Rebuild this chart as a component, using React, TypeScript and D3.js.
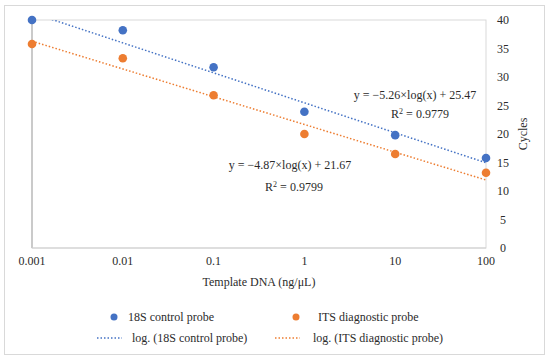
import React from 'react';
import * as d3 from 'd3';

const concentrations = [0.001, 0.01, 0.1, 1, 10, 100];
const controlCycles = [40.0, 38.2, 31.7, 23.9, 19.8, 15.8];
const diagnosticCycles = [35.8, 33.3, 26.8, 20.0, 16.5, 13.2];
const yTicks = [0, 5, 10, 15, 20, 25, 30, 35, 40];
const xTickLabels = ['0.001', '0.01', '0.1', '1', '10', '100'];

const series = [
  { name: '18S control probe', values: controlCycles, color: '#4472C4', slope: -5.26, intercept: 25.47, eq: 'y = \u22125.26\u00D7log(x) + 25.47', r2: '0.9779' },
  { name: 'ITS diagnostic probe', values: diagnosticCycles, color: '#ED7D31', slope: -4.87, intercept: 21.67, eq: 'y = \u22124.87\u00D7log(x) + 21.67', r2: '0.9799' },
];

const W = 550;
const H = 360;
const m = { left: 32, right: 486, top: 20, bottom: 248 };
const font = "'Liberation Serif', 'DejaVu Serif', serif";
const ink = '#2b2b2b';

const App: React.FC = () => {
  const x = d3.scaleLog().domain([0.001, 100]).range([m.left, m.right]);
  const y = d3.scaleLinear().domain([0, 40]).range([m.bottom, m.top]);

  // log10 trend line for each probe
  const trend = (s: typeof series[0]) => {
    const pts = d3.range(-3, 2.001, 0.05).map((e) => {
      const c = Math.pow(10, e);
      return [x(c), y(s.slope * Math.log10(c) + s.intercept)] as [number, number];
    });
    return d3.line()(pts) || '';
  };

  const labelPos = [
    { eqX: 415, eqY: 99, rX: 420, rY: 118 },
    { eqX: 290, eqY: 169, rX: 294, rY: 191 },
  ];

  return (
    <svg width={W} height={H} style={{ position: 'absolute', left: 0, top: 0 }} fontFamily={font}>
      <rect x={0} y={0} width={W} height={H} fill="#fff" />
      <rect x={4.5} y={5.5} width={540} height={349} fill="none" stroke="#d9d9d9" />
      <defs>
        <clipPath id="plot">
          <rect x={m.left} y={m.top} width={m.right - m.left} height={m.bottom - m.top} />
        </clipPath>
      </defs>
      <rect x={m.left} y={m.top} width={m.right - m.left} height={m.bottom - m.top} fill="none" stroke="#d9d9d9" />
      <line x1={m.left} x2={m.left} y1={m.top} y2={m.bottom} stroke="#bfbfbf" strokeWidth={1.5} />
      <line x1={m.left} x2={m.right} y1={m.bottom} y2={m.bottom} stroke="#d0d0d0" />

      {yTicks.map((t) => (
        <text key={t} x={503} y={y(t)} dy="0.35em" textAnchor="middle" fontSize={12} fill={ink}>{t}</text>
      ))}
      <text transform={`translate(527,${(m.top + m.bottom) / 2}) rotate(-90)`} textAnchor="middle" fontSize={12} fill={ink}>Cycles</text>

      {concentrations.map((c, i) => (
        <text key={c} x={x(c)} y={261} dy="0.35em" textAnchor="middle" fontSize={12} fill={ink}>{xTickLabels[i]}</text>
      ))}
      <text x={259} y={282} dy="0.35em" textAnchor="middle" fontSize={12} fill={ink}>Template DNA (ng/&#956;L)</text>

      <g clipPath="url(#plot)">
        {series.map((s) => (
          <path key={s.name} d={trend(s)} fill="none" stroke={s.color} strokeWidth={1.5} strokeDasharray="1.5 2" />
        ))}
      </g>
      {series.map((s) => (
        <g key={s.name + 'pts'}>
          {s.values.map((v, i) => (
            <circle key={i} cx={x(concentrations[i])} cy={y(v)} r={4.3} fill={s.color} />
          ))}
        </g>
      ))}

      {series.map((s, i) => (
        <g key={s.name + 'lab'} fontSize={12} fill={ink}>
          <text x={labelPos[i].eqX} y={labelPos[i].eqY} textAnchor="middle">{s.eq}</text>
          <text x={labelPos[i].rX} y={labelPos[i].rY} textAnchor="middle">R<tspan dy={-4} fontSize={8}>2</tspan><tspan dy={4}> = {s.r2}</tspan></text>
        </g>
      ))}

      {series.map((s, i) => {
        const lx = i === 0 ? 114 : 296;
        const tx = i === 0 ? 128 : 318;
        const llx = i === 0 ? 97 : 275;
        const ltx = i === 0 ? 132 : 313;
        return (
          <g key={s.name + 'leg'} fontSize={12} fill={ink}>
            <circle cx={lx} cy={317} r={3.5} fill={s.color} />
            <text x={tx} y={317} dy="0.35em">{s.name}</text>
            <line x1={llx} x2={llx + 25} y1={338} y2={338} stroke={s.color} strokeWidth={1.5} strokeDasharray="1.5 2" />
            <text x={ltx} y={338} dy="0.35em">log. ({s.name})</text>
          </g>
        );
      })}
    </svg>
  );
};

export default App;
